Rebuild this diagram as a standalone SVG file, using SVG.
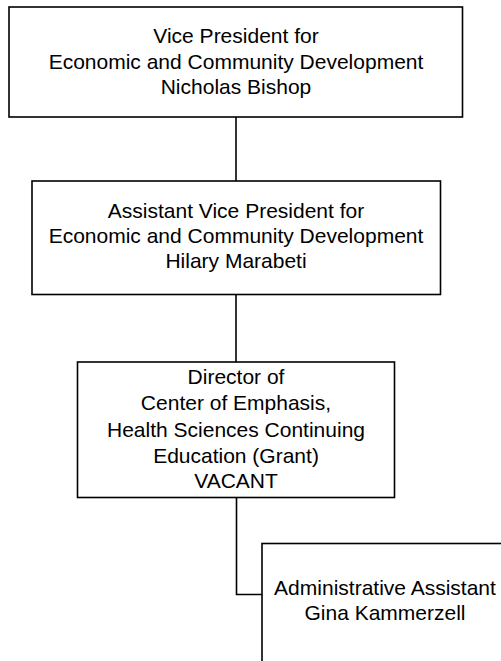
<svg xmlns="http://www.w3.org/2000/svg" width="501" height="661" viewBox="0 0 501 661">
<style>
.box{fill:#fff;stroke:#000;stroke-width:1.6}
.t{font-family:"Liberation Sans",Arial,sans-serif;font-size:21px;fill:#000;text-anchor:middle}
.c{fill:none;stroke:#000;stroke-width:1.6}
</style>
<rect width="501" height="661" fill="#fff"/>
<g id="connectors">
<line class="c" x1="236" y1="117" x2="236" y2="181"/>
<line class="c" x1="236" y1="294.5" x2="236" y2="362"/>
<polyline class="c" points="236.5,497.5 236.5,594.5 262,594.5"/>
</g>
<g id="vp">
<rect class="box" x="9" y="7" width="453.5" height="110"/>
<text class="t" x="236" y="43">Vice President for</text>
<text class="t" x="236" y="68.5">Economic and Community Development</text>
<text class="t" x="236" y="94">Nicholas Bishop</text>
</g>
<g id="avp">
<rect class="box" x="32" y="181" width="408.5" height="113.5"/>
<text class="t" x="236" y="217.5">Assistant Vice President for</text>
<text class="t" x="236" y="243">Economic and Community Development</text>
<text class="t" x="236" y="268">Hilary Marabeti</text>
</g>
<g id="director">
<rect class="box" x="77.5" y="362" width="317" height="135.5"/>
<text class="t" x="236" y="383.5">Director of</text>
<text class="t" x="236" y="410">Center of Emphasis,</text>
<text class="t" x="236" y="437">Health Sciences Continuing</text>
<text class="t" x="236" y="463">Education (Grant)</text>
<text class="t" x="236" y="488">VACANT</text>
</g>
<g id="admin">
<rect class="box" x="262" y="543.5" width="246" height="130"/>
<text class="t" x="385" y="595">Administrative Assistant</text>
<text class="t" x="385" y="620">Gina Kammerzell</text>
</g>
</svg>
